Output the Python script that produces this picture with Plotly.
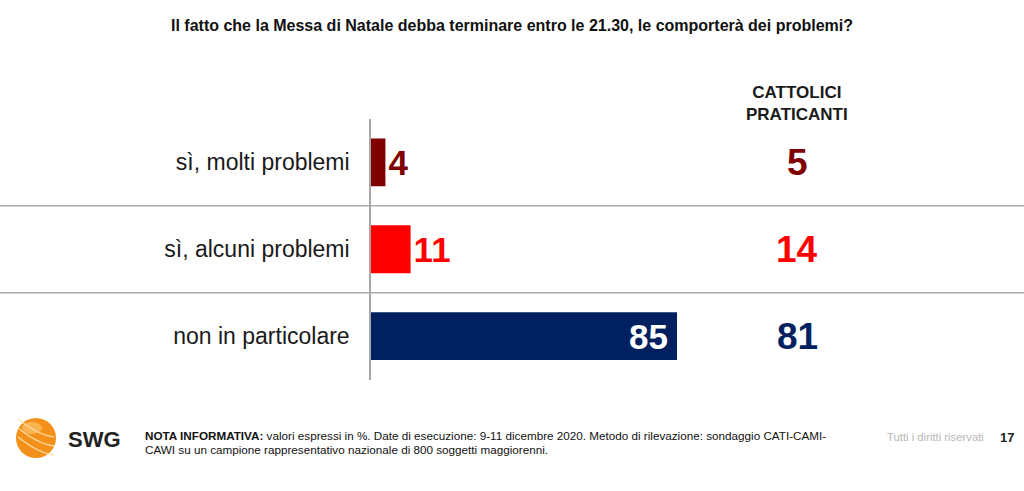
import plotly.graph_objects as go

W, H = 1024, 491

categories = ["sì, molti problemi", "sì, alcuni problemi", "non in particolare"]
totale = [4, 11, 85]
cattolici = [5, 14, 81]
bar_colors = ["#7F0000", "#FF0000", "#002060"]
label_colors = ["#7F0000", "#FF0000", "#FFFFFF"]
right_colors = ["#7F0000", "#FF0000", "#002060"]
label_inside = [False, False, True]

title = "Il fatto che la Messa di Natale debba terminare entro le 21.30, le comporterà dei problemi?"
col_header = "CATTOLICI<br>PRATICANTI"
note_l1 = "<b>NOTA INFORMATIVA:</b> valori espressi in %. Date di esecuzione: 9-11 dicembre 2020. Metodo di rilevazione: sondaggio CATI-CAMI-"
note_l2 = "CAWI su un campione rappresentativo nazionale di 800 soggetti maggiorenni."

FONT = "Liberation Sans, Arial, sans-serif"


def px(x):
    return x / W


def py(y):
    return 1 - y / H


fig = go.Figure()
fig.add_trace(go.Bar(
    y=categories, x=totale, orientation="h",
    marker=dict(color=bar_colors, line=dict(width=0)),
    width=0.55,
    text=[str(v) for v in totale],
    textposition=["none" if ins else "outside" for ins in label_inside],
    outsidetextfont=dict(family=FONT, size=35, color=label_colors, weight="bold"),
    cliponaxis=False,
    hoverinfo="skip",
))

annotations = []
# inside labels (with padding like the reference)
for cat, v, c, ins in zip(categories, totale, label_colors, label_inside):
    if ins:
        annotations.append(dict(x=v, y=cat, xref="x", yref="y", text="<b>" + str(v) + "</b>",
                                showarrow=False, font=dict(family=FONT, size=35, color=c),
                                xanchor="right", yanchor="middle", xshift=-7))
# title
annotations.append(dict(x=px(512), y=py(26), xref="paper", yref="paper", text="<b>" + title + "</b>",
                        showarrow=False, font=dict(family=FONT, size=16, color="#111"),
                        xanchor="center", yanchor="middle"))
# column header
annotations.append(dict(x=px(797), y=py(103), xref="paper", yref="paper", text="<b>" + col_header + "</b>",
                        showarrow=False, font=dict(family=FONT, size=17, color="#1a1a1a"),
                        xanchor="center", yanchor="middle", align="center"))
# right column values
for cat, v, c in zip(categories, cattolici, right_colors):
    annotations.append(dict(x=px(797), y=cat, xref="paper", yref="y", text="<b>" + str(v) + "</b>",
                            showarrow=False, font=dict(family=FONT, size=37, color=c),
                            xanchor="center", yanchor="middle"))
# footer
annotations.append(dict(x=px(66), y=py(439), xref="paper", yref="paper", text="<b>SWG</b>",
                        showarrow=False, font=dict(family=FONT, size=22, color="#222"),
                        xanchor="left", yanchor="middle"))
annotations.append(dict(x=px(143), y=py(435), xref="paper", yref="paper", text=note_l1,
                        showarrow=False, font=dict(family=FONT, size=11.7, color="#111"),
                        xanchor="left", yanchor="middle"))
annotations.append(dict(x=px(143), y=py(449), xref="paper", yref="paper", text=note_l2,
                        showarrow=False, font=dict(family=FONT, size=11.7, color="#111"),
                        xanchor="left", yanchor="middle"))
annotations.append(dict(x=px(986), y=py(437), xref="paper", yref="paper", text="Tutti i diritti riservati",
                        showarrow=False, font=dict(family=FONT, size=11.3, color="#b8b8b8"),
                        xanchor="right", yanchor="middle"))
annotations.append(dict(x=px(1007), y=py(437), xref="paper", yref="paper", text="<b>17</b>",
                        showarrow=False, font=dict(family=FONT, size=13, color="#222"),
                        xanchor="center", yanchor="middle"))

shapes = []
# separators between categories
for yv in [0.5, 1.5]:
    shapes.append(dict(type="line", xref="paper", yref="y", x0=0, x1=1, y0=yv, y1=yv,
                       line=dict(color="#ababab", width=1.5), layer="below"))
# logo circle
cx, cy, r = 36, 438, 20
shapes.append(dict(type="circle", xref="paper", yref="paper",
                   x0=px(cx - r), x1=px(cx + r), y0=py(cy + r), y1=py(cy - r),
                   fillcolor="#F39019", line=dict(width=0)))
shapes.append(dict(type="circle", xref="paper", yref="paper",
                   x0=px(cx - r + 6), x1=px(cx + r - 14), y0=py(cy - r + 16), y1=py(cy - r + 4),
                   fillcolor="rgba(255,205,120,0.6)", line=dict(width=0)))
for off in [-9, 0, 9]:
    x0, y0 = cx - r + 2, cy + off - 10
    x1, y1 = cx + r - 2, cy + off + 8
    qx, qy = cx + 2, cy + off + 6
    shapes.append(dict(type="path", xref="paper", yref="paper",
                       path=f"M {px(x0)},{py(y0)} Q {px(qx)},{py(qy)} {px(x1)},{py(y1)}",
                       line=dict(color="rgba(255,225,170,0.85)", width=1.6)))

fig.update_layout(
    width=W, height=H,
    margin=dict(l=0, r=0, t=0, b=0),
    paper_bgcolor="white", plot_bgcolor="white",
    showlegend=False,
    xaxis=dict(domain=[px(371), px(731)], range=[0, 100], visible=False, fixedrange=True),
    yaxis=dict(domain=[py(379.5), py(119)], range=[2.5, -0.5], type="category",
               categoryorder="array", categoryarray=categories,
               showline=True, linecolor="#a8a8a8", linewidth=1.5,
               showgrid=False, zeroline=False, ticks="",
               ticklabelstandoff=15,
               tickfont=dict(family=FONT, size=23, color="#1a1a1a"), fixedrange=True),
    annotations=annotations,
    shapes=shapes,
)

fig.write_html("out.html", config={"displayModeBar": False},
               post_script="document.body.style.margin='0';document.body.style.overflow='hidden';")
